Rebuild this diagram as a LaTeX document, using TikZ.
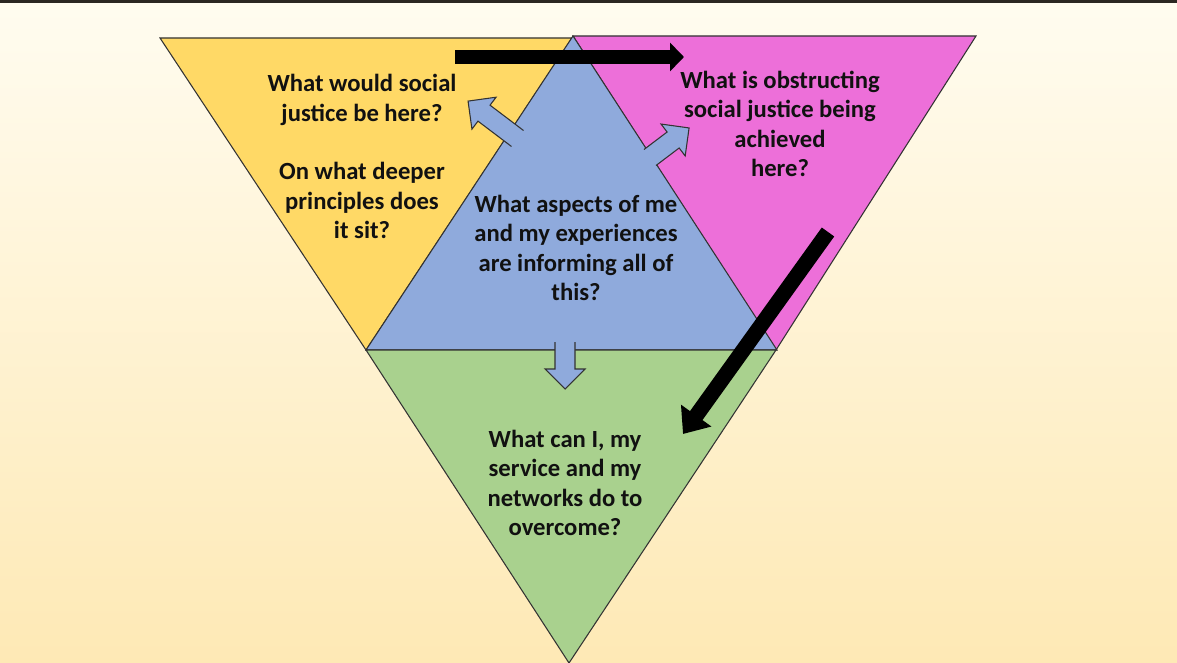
\documentclass[tikz,border=0pt]{standalone}
\usepackage{fontspec}
\setmainfont{Carlito}
\usetikzlibrary{arrows.meta}
\definecolor{bgtop}{HTML}{FFFCF0}
\definecolor{bgbot}{HTML}{FEE9B5}
\definecolor{topbar}{HTML}{2B2722}
\definecolor{cyellow}{HTML}{FFD966}
\definecolor{cpink}{HTML}{ED6FD9}
\definecolor{cblue}{HTML}{8FAADC}
\definecolor{cgreen}{HTML}{A9D18E}
\definecolor{cedge}{HTML}{333333}
\definecolor{ctext}{HTML}{111111}
\newcommand\bluearrow[4]{%
  \begin{scope}[shift={(#1,#2)},rotate=#3]
    \fill[cblue] (0,-10) -- ({#4-20},-10) -- ({#4-20},-20) -- (#4,0) -- ({#4-20},20) -- ({#4-20},10) -- (0,10) -- cycle;
    \draw[edge] (0,-10) -- ({#4-20},-10) -- ({#4-20},-20) -- (#4,0) -- ({#4-20},20) -- ({#4-20},10) -- (0,10);
  \end{scope}}
\begin{document}
\begin{tikzpicture}[x=0.75pt,y=-0.75pt,
  edge/.style={draw=cedge,line width=0.8pt,line join=miter},
  tri/.style={edge},
  label/.style={text=ctext,font=\bfseries\fontsize{18.5}{22}\selectfont,align=center,inner sep=0pt},
  bigarrow/.style={draw=black,line cap=butt}]
\useasboundingbox (0,0) rectangle (1177,663);
\shade[top color=bgtop,bottom color=bgbot] (0,0) rectangle (1177,663);
\fill[topbar] (0,0) rectangle (1177,3);
% triangles
\coordinate (Y1) at (160,38); \coordinate (Y2) at (572,38); \coordinate (Y3) at (366,350);
\coordinate (P1) at (573,36); \coordinate (P2) at (976,36); \coordinate (P3) at (776,350);
\coordinate (B1) at (573,36); \coordinate (B2) at (366,350); \coordinate (B3) at (777,350);
\coordinate (G1) at (366,350); \coordinate (G2) at (776,350); \coordinate (G3) at (569,663);
\filldraw[tri,fill=cyellow] (Y1) -- (Y2) -- (Y3) -- cycle;
\filldraw[tri,fill=cpink] (P1) -- (P2) -- (P3) -- cycle;
\filldraw[tri,fill=cblue] (B1) -- (B2) -- (B3) -- cycle;
\filldraw[tri,fill=cgreen] (G1) -- (G2) -- (G3) -- cycle;
% blue block arrows
\bluearrow{517.5}{138.5}{142.9}{62}
\bluearrow{650}{157.5}{37.1}{49}
\bluearrow{565}{342}{-90}{47}
% black arrows
\coordinate (h1) at (455,57); \coordinate (h2) at (684,57);
\draw[bigarrow,line width=10.1pt,-{Triangle[length=10.5pt,width=21pt]}] (h1) -- (h2);
\coordinate (d1) at (828,232); \coordinate (d2) at (683,434);
\draw[bigarrow,line width=11.5pt,-{Triangle[length=17pt,width=27pt]}] (d1) -- (d2);
% texts
\node[label] (ty) at (362,156.5) {What would social\\justice be here?\\[22pt]On what deeper\\principles does\\it sit?};
\node[label] (tp) at (780,124) {What is obstructing\\social justice being\\achieved\\here?};
\node[label] (tb) at (576,248) {What aspects of me\\and my experiences\\are informing all of\\this?};
\node[label] (tg) at (565,483) {What can I, my\\service and my\\networks do to\\overcome?};
\end{tikzpicture}
\end{document}
